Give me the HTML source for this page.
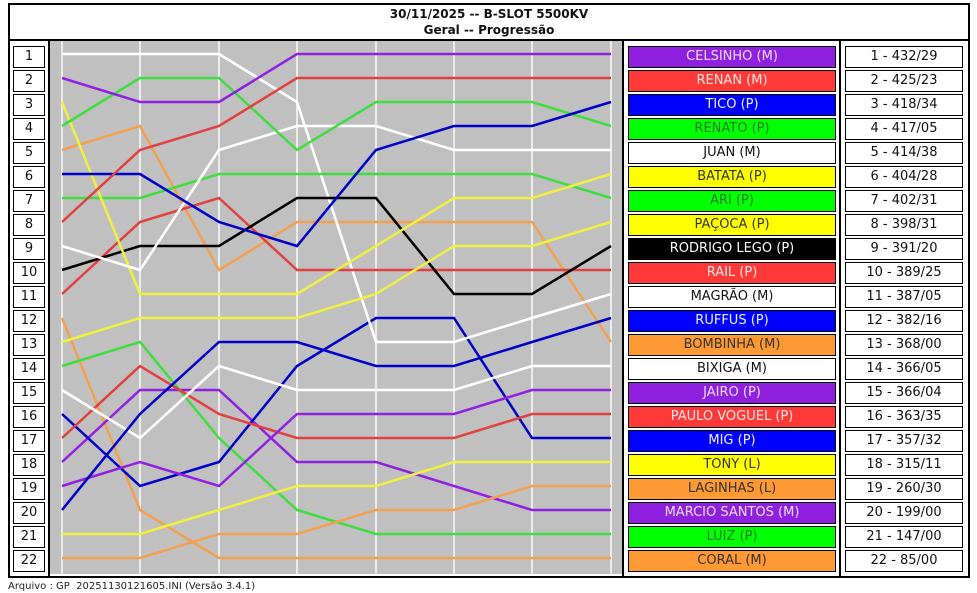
<!DOCTYPE html>
<html><head><meta charset="utf-8"><style>
body{margin:0;width:977px;height:593px;background:#fff;position:relative;overflow:hidden;font-family:"DejaVu Sans","Liberation Sans",sans-serif}
.a{position:absolute;box-sizing:border-box}
.t{position:absolute;left:10px;width:958px;text-align:center;font-weight:bold;font-size:12px;color:#111}
.p,.n,.s{position:absolute;box-sizing:border-box;border:1px solid #000;height:22px;line-height:20px;text-align:center;font-size:13px;background:#fff;color:#111}
.p{left:13px;width:32px}
.n{left:628px;width:208px}
.s{left:845px;width:118px}
</style></head><body>
<div class="a" style="left:8px;top:3px;width:962px;height:575px;border:2px solid #000"></div>
<div class="a" style="left:8px;top:39px;width:962px;height:2px;background:#000"></div>
<div class="a" style="left:48px;top:40px;width:2px;height:536px;background:#000"></div>
<div class="a" style="left:622px;top:40px;width:2px;height:536px;background:#000"></div>
<div class="a" style="left:839px;top:40px;width:2px;height:536px;background:#000"></div>
<div class="t" style="top:7px">30/11/2025 -- B-SLOT 5500KV</div>
<div class="t" style="top:23px">Geral -- Progressão</div>
<svg class="a" style="left:0;top:0" width="977" height="593">
<rect x="50" y="41" width="572" height="533" fill="#c0c0c0"/>
<g stroke="#ececec" stroke-width="2">
<line x1="62" y1="41" x2="62" y2="574"/><line x1="140" y1="41" x2="140" y2="574"/><line x1="219" y1="41" x2="219" y2="574"/><line x1="297" y1="41" x2="297" y2="574"/><line x1="376" y1="41" x2="376" y2="574"/><line x1="454" y1="41" x2="454" y2="574"/><line x1="532" y1="41" x2="532" y2="574"/><line x1="611" y1="41" x2="611" y2="574"/>
</g>
<g fill="none" stroke-width="2.5" stroke-linejoin="miter">
<polyline stroke="#f0a050" points="62,318 140,510 219,558 297,558 376,558 454,558 532,558 611,558"/>
<polyline stroke="#40dd40" points="62,366 140,342 219,438 297,510 376,534 454,534 532,534 611,534"/>
<polyline stroke="#9020e0" points="62,462 140,390 219,390 297,462 376,462 454,486 532,510 611,510"/>
<polyline stroke="#f0a050" points="62,558 140,558 219,534 297,534 376,510 454,510 532,486 611,486"/>
<polyline stroke="#f0f040" points="62,534 140,534 219,510 297,486 376,486 454,462 532,462 611,462"/>
<polyline stroke="#0000c8" points="62,414 140,486 219,462 297,366 376,318 454,318 532,438 611,438"/>
<polyline stroke="#e04040" points="62,438 140,366 219,414 297,438 376,438 454,438 532,414 611,414"/>
<polyline stroke="#9020e0" points="62,486 140,462 219,486 297,414 376,414 454,414 532,390 611,390"/>
<polyline stroke="#ffffff" points="62,390 140,438 219,366 297,390 376,390 454,390 532,366 611,366"/>
<polyline stroke="#f0a050" points="62,150 140,126 219,270 297,222 376,222 454,222 532,222 611,342"/>
<polyline stroke="#0000c8" points="62,510 140,414 219,342 297,342 376,366 454,366 532,342 611,318"/>
<polyline stroke="#ffffff" points="62,54 140,54 219,54 297,102 376,342 454,342 532,318 611,294"/>
<polyline stroke="#e04040" points="62,294 140,222 219,198 297,270 376,270 454,270 532,270 611,270"/>
<polyline stroke="#000000" points="62,270 140,246 219,246 297,198 376,198 454,294 532,294 611,246"/>
<polyline stroke="#f0f040" points="62,342 140,318 219,318 297,318 376,294 454,246 532,246 611,222"/>
<polyline stroke="#40dd40" points="62,198 140,198 219,174 297,174 376,174 454,174 532,174 611,198"/>
<polyline stroke="#f0f040" points="62,102 140,294 219,294 297,294 376,246 454,198 532,198 611,174"/>
<polyline stroke="#ffffff" points="62,246 140,270 219,150 297,126 376,126 454,150 532,150 611,150"/>
<polyline stroke="#40dd40" points="62,126 140,78 219,78 297,150 376,102 454,102 532,102 611,126"/>
<polyline stroke="#0000c8" points="62,174 140,174 219,222 297,246 376,150 454,126 532,126 611,102"/>
<polyline stroke="#e04040" points="62,222 140,150 219,126 297,78 376,78 454,78 532,78 611,78"/>
<polyline stroke="#9020e0" points="62,78 140,102 219,102 297,54 376,54 454,54 532,54 611,54"/>
</g>
</svg>
<div class="p" style="top:46px">1</div><div class="p" style="top:70px">2</div><div class="p" style="top:94px">3</div><div class="p" style="top:118px">4</div><div class="p" style="top:142px">5</div><div class="p" style="top:166px">6</div><div class="p" style="top:190px">7</div><div class="p" style="top:214px">8</div><div class="p" style="top:238px">9</div><div class="p" style="top:262px">10</div><div class="p" style="top:286px">11</div><div class="p" style="top:310px">12</div><div class="p" style="top:334px">13</div><div class="p" style="top:358px">14</div><div class="p" style="top:382px">15</div><div class="p" style="top:406px">16</div><div class="p" style="top:430px">17</div><div class="p" style="top:454px">18</div><div class="p" style="top:478px">19</div><div class="p" style="top:502px">20</div><div class="p" style="top:526px">21</div><div class="p" style="top:550px">22</div>

<div class="n" style="top:46px;background:#9020e0;color:#e8dcf4">CELSINHO (M)</div>
<div class="n" style="top:70px;background:#ff3838;color:#f6e6e6">RENAN (M)</div>
<div class="n" style="top:94px;background:#0000ff;color:#f0f0ff">TICO (P)</div>
<div class="n" style="top:118px;background:#00ff00;color:#2a7a2a">RENATO (P)</div>
<div class="n" style="top:142px">JUAN (M)</div>
<div class="n" style="top:166px;background:#ffff00;color:#333">BATATA (P)</div>
<div class="n" style="top:190px;background:#00ff00;color:#2a7a2a">ARI (P)</div>
<div class="n" style="top:214px;background:#ffff00;color:#333">PAÇOCA (P)</div>
<div class="n" style="top:238px;background:#000;color:#fff">RODRIGO LEGO (P)</div>
<div class="n" style="top:262px;background:#ff3838;color:#f6e6e6">RAIL (P)</div>
<div class="n" style="top:286px">MAGRÃO (M)</div>
<div class="n" style="top:310px;background:#0000ff;color:#f0f0ff">RUFFUS (P)</div>
<div class="n" style="top:334px;background:#ff9933;color:#333">BOMBINHA (M)</div>
<div class="n" style="top:358px">BIXIGA (M)</div>
<div class="n" style="top:382px;background:#9020e0;color:#e8dcf4">JAIRO (P)</div>
<div class="n" style="top:406px;background:#ff3838;color:#f6e6e6">PAULO VOGUEL (P)</div>
<div class="n" style="top:430px;background:#0000ff;color:#f0f0ff">MIG (P)</div>
<div class="n" style="top:454px;background:#ffff00;color:#333">TONY (L)</div>
<div class="n" style="top:478px;background:#ff9933;color:#333">LAGINHAS (L)</div>
<div class="n" style="top:502px;background:#9020e0;color:#e8dcf4">MARCIO SANTOS (M)</div>
<div class="n" style="top:526px;background:#00ff00;color:#2a7a2a">LUIZ (P)</div>
<div class="n" style="top:550px;background:#ff9933;color:#333">CORAL (M)</div>

<div class="s" style="top:46px">1 - 432/29</div><div class="s" style="top:70px">2 - 425/23</div><div class="s" style="top:94px">3 - 418/34</div><div class="s" style="top:118px">4 - 417/05</div><div class="s" style="top:142px">5 - 414/38</div><div class="s" style="top:166px">6 - 404/28</div><div class="s" style="top:190px">7 - 402/31</div><div class="s" style="top:214px">8 - 398/31</div><div class="s" style="top:238px">9 - 391/20</div><div class="s" style="top:262px">10 - 389/25</div><div class="s" style="top:286px">11 - 387/05</div><div class="s" style="top:310px">12 - 382/16</div><div class="s" style="top:334px">13 - 368/00</div><div class="s" style="top:358px">14 - 366/05</div><div class="s" style="top:382px">15 - 366/04</div><div class="s" style="top:406px">16 - 363/35</div><div class="s" style="top:430px">17 - 357/32</div><div class="s" style="top:454px">18 - 315/11</div><div class="s" style="top:478px">19 - 260/30</div><div class="s" style="top:502px">20 - 199/00</div><div class="s" style="top:526px">21 - 147/00</div><div class="s" style="top:550px">22 - 85/00</div>

<div class="a" style="left:8px;top:581px;font-size:10px;color:#222;white-space:pre">Arquivo : GP  20251130121605.INI (Versão 3.4.1)</div>
</body></html>
